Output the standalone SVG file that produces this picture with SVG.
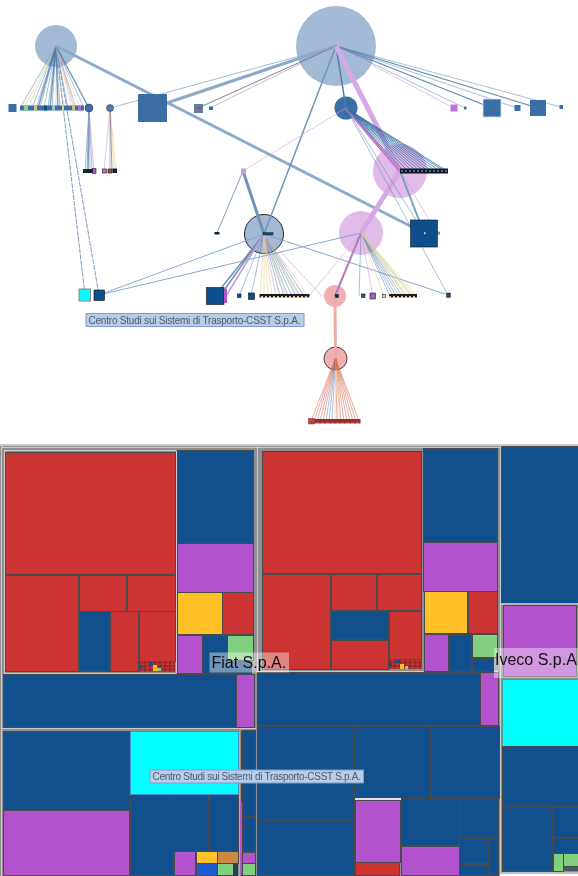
<svg xmlns="http://www.w3.org/2000/svg" width="578" height="876" viewBox="0 0 578 876">
<style>
.r{fill:#cc3333}.b{fill:#11508c}.p{fill:#b252cc}.y{fill:#ffc125}.g{fill:#80d080}.c{fill:#00ffff}.o{fill:#cc8840}.u{fill:#1a5cd0}
#treemap{shape-rendering:crispEdges}
#treemap rect{stroke:#4a4a4a;stroke-width:1}
#treemap rect.f{stroke:none}
.e{fill:none}
.lb{stroke:#4f7fae;stroke-width:.7;opacity:.7}
.ly{stroke:#eccf88;stroke-width:.7;opacity:.85}
.lp{stroke:#d49ce0;stroke-width:.7;opacity:.85}
.lg{stroke:#9fd0a0;stroke-width:.7;opacity:.85}
.lr{stroke:#d96a60;stroke-width:.7;opacity:.8}
.n{fill:#3a6ea5}
.t{fill:#11508c;stroke:#111;stroke-width:.6}
.tip{fill:#b8cde6;stroke:#7c9fcf;stroke-width:1}
.tipt{font-family:"Liberation Sans",Arial,sans-serif;font-size:10px;fill:#4a5a78}
.big{font-family:"Liberation Sans",Arial,sans-serif;font-size:16px;fill:#111}
</style>
<defs>
<filter id="soft" x="0" y="0" width="578" height="440" filterUnits="userSpaceOnUse"><feGaussianBlur stdDeviation="0.45"/></filter>
<pattern id="tiny" width="4" height="6" patternUnits="userSpaceOnUse" x="0" y="0"><rect width="4" height="6" fill="#1a1f2e"/><rect x="1" y="2" width="2" height="2" fill="#d8c070"/></pattern>
<pattern id="tinyb" width="4" height="6" patternUnits="userSpaceOnUse"><rect width="4" height="6" fill="#101822"/><rect x="1" y="2" width="2" height="2" fill="#4a6a88"/></pattern>
<pattern id="tinyr" width="5" height="6" patternUnits="userSpaceOnUse"><rect width="5" height="6" fill="#8a3030"/><rect x="1" y="2" width="3" height="2" fill="#cc4444"/></pattern>
<pattern id="mini" width="5" height="3.6" patternUnits="userSpaceOnUse"><rect width="5" height="3.6" fill="#cc3333" stroke="#662222" stroke-width=".8"/></pattern>
</defs>
<rect width="578" height="876" fill="#fff"/>

<g id="graph" filter="url(#soft)">
<g id="graph-circles">
<circle id="node-a" cx="56" cy="46" r="21" fill="#a3bad5"/>
<circle id="node-b" cx="336" cy="46" r="40" fill="#a3bad5"/>
<circle id="node-c" cx="400" cy="171" r="27" fill="#e2bce8"/>
<circle id="node-d" cx="361" cy="233" r="22" fill="#e2bce8"/>
<circle id="node-e" cx="335" cy="296" r="11" fill="#eeb0b0"/>
<circle id="node-f" cx="335.500" cy="358.500" r="11.500" fill="#eeb0b0" stroke="#553a3a" stroke-width="1"/>
<circle id="node-g" cx="264" cy="234" r="19.500" fill="#a3bad5" stroke="#223" stroke-width="1"/>
<circle id="node-h" cx="346" cy="108" r="11.500" fill="#3a6ea5"/>
</g>

<g id="connectors" class="e">
<path class="lb" d="M56 46L20 108M56 46L32 108M56 46L40 108M56 46L44 108M56 46L52 108M56 46L60 108M56 46L68 108M56 46L76 108M56 46L84 108M56 46L36 108M56 46L48 108"/>
<path class="ly" d="M56 46L24 108M56 46L56 108M56 46L64 108M56 46L72 108M56 46L80 108"/>
<path class="lg" d="M56 46L28 108"/>
<path class="lp" d="M56 46L74 108"/>
<path stroke="#3a6ea5" stroke-width="1.400" opacity=".7" d="M56 46L38 108M56 46L50 108M56 46L58 108M56 46L89 108"/>
<path stroke="#7d9dc2" stroke-width="1" d="M56 46L85 295M56 46L99 295" stroke-dasharray="5 1"/>
<path stroke="#8ca9c9" stroke-width="3" d="M56 46L424 233"/>
<path stroke="#8ca9c9" stroke-width="3" d="M336 46L152 108"/>
<path stroke="#8ca9c9" stroke-width=".8" d="M336 46L110 108"/>
<path stroke="#6b5f7a" stroke-width=".8" d="M336 46L198 108"/>
<path stroke="#a0a8c8" stroke-width=".7" d="M336 46L210 108"/>
<path stroke="#4f7fae" stroke-width="1.500" d="M336 46L346 108"/>
<path stroke="#6f93b8" stroke-width="1.500" d="M336 46L264 234"/>
<path stroke="#e0b0e8" stroke-width=".8" d="M336 46L454 108"/>
<path class="lb" d="M336 46L465 108M336 46L517 108M336 46L561 107"/>
<path stroke="#5f8ab3" stroke-width="1.200" d="M336 46L492 108M336 46L538 108"/>
<path stroke="#d8a8e6" stroke-width="5" d="M336 46L400 171L361 233"/>
<path stroke="#b27cc0" stroke-width="2" d="M361 233L335 296"/>
<path stroke="#eeaaaa" stroke-width="3" d="M335 296L335.500 358.500"/>
<path stroke="#c77ed0" stroke-width="3" d="M346 108L400 171"/>
<path stroke="#3a6ea5" stroke-width="1" opacity=".8" d="M346 108L404 171M346 108L408 171M346 108L412 171M346 108L416 171M346 108L420 171M346 108L424 171M346 108L428 171M346 108L432 171M346 108L436 171M346 108L440 171M346 108L444 171M346 108L447 171"/>
<path stroke="#7b9dc4" stroke-width="2" d="M400 171L424 233"/>
<path class="lb" d="M346 108L424 233M346 108L448 295"/>
<path class="lp" d="M346 108L243 171M400 171L437 233"/>
<path stroke="#6f93b8" stroke-width="3" d="M243 171L264 234"/>
<path stroke="#7d9dc2" stroke-width="1" d="M243 171L217 233"/>
<path class="lb" d="M89 108L85 171M89 108L87 171M89 108L90 171M89 108L92 171M110 108L110 171"/>
<path stroke="#7d9dc2" stroke-width="1.500" d="M89 108L88 171"/>
<path class="lp" d="M89 108L94 171M110 108L104 171"/>
<path class="ly" d="M110 108L114 171M110 108L116 171"/>
<path stroke="#8a6a70" stroke-width=".7" d="M110 108L112 171"/>
<path stroke="#6f93b8" stroke-width="1.500" d="M264 234L215 296M264 234L220 296"/>
<path stroke="#c79ad8" stroke-width="1.500" d="M264 234L226 296"/>
<path class="lb" d="M264 234L239 296M264 234L251 296M264 234L280 296M264 234L284 296M264 234L288 296M264 234L292 296M264 234L296 296M264 234L300 296M264 234L304 296"/>
<path class="ly" d="M264 234L260 296M264 234L264 296M264 234L268 296M264 234L272 296M264 234L286 296M264 234L298 296M264 234L308 296"/>
<path class="lp" d="M264 234L276 296"/>
<path stroke="#7fa0c8" stroke-width=".9" d="M264 234L99 295M361 233L99 295M264 234L448 295"/>
<path class="lp" d="M361 233L309 296M264 234L322 296"/>
<path class="lb" d="M361 233L359 296M361 233L390 296M361 233L393 296M361 233L396 296M361 233L399 296M361 233L402 296"/>
<path class="lp" d="M361 233L373 296"/>
<path class="ly" d="M361 233L384 296M361 233L405 296M361 233L408 296M361 233L411 296M361 233L414 296M361 233L417 296"/>
<path class="lg" d="M361 233L406 296M361 233L412 296"/>
<path class="lr" d="M335.500 358.500L311 421M335.500 358.500L314 421M335.500 358.500L317 421M335.500 358.500L320 421M335.500 358.500L323 421M335.500 358.500L341 421M335.500 358.500L344 421M335.500 358.500L347 421M335.500 358.500L350 421M335.500 358.500L353 421M335.500 358.500L356 421M335.500 358.500L359 421M335.500 358.500L337 421"/>
<path class="lb" d="M335.500 358.500L326 421M335.500 358.500L329 421M335.500 358.500L332 421"/>
<path class="ly" d="M335.500 358.500L335 421M335.500 358.500L338 421M335.500 358.500L340 421"/>
<path stroke="#cc5544" stroke-width="3" opacity=".6" d="M335.500 358.500L335.500 370"/>
</g>

<g id="nodes-top">
<rect id="n1" x="8.500" y="104" width="8" height="8" class="n"/>
<rect id="n2" x="20" y="105.500" width="64" height="5" fill="#3a6ea5"/>
<rect x="24" y="105.500" width="4" height="5" fill="#90d090"/><rect x="34" y="105.500" width="3" height="5" fill="#d8c070"/><rect x="44" y="105.500" width="3" height="5" fill="#11508c"/><rect x="52" y="105.500" width="3" height="5" fill="#a8c0d8"/><rect x="62" y="105.500" width="2" height="5" fill="#f0d080"/><rect x="72" y="105.500" width="3" height="5" fill="#d8c070"/><rect x="78" y="105.500" width="3" height="5" fill="#b070d0"/>
<circle id="n3" cx="89" cy="108" r="4" fill="#3a6ea5" stroke="#333" stroke-width=".5"/>
<circle id="n4" cx="110" cy="108" r="3.500" fill="#4f7fae" stroke="#333" stroke-width=".5"/>
<rect id="n5" x="138" y="94" width="29" height="28" rx="1" class="n"/>
<rect id="n6" x="194" y="104" width="9" height="9" fill="#5a80a8"/><rect x="196" y="107" width="5" height="2" fill="#b05050"/>
<rect id="n7" x="209" y="106.500" width="4" height="3.500" class="n"/>
<rect id="n8" x="450.500" y="104.500" width="7" height="7" fill="#c070d8"/>
<rect id="n9" x="464" y="106.500" width="2.500" height="3" class="n"/>
<rect id="n10" x="483" y="99" width="18" height="18" class="n" stroke="#dce6f0" stroke-width=".8"/>
<rect id="n11" x="514.500" y="105" width="6" height="6" class="n"/>
<rect id="n12" x="530" y="100" width="16" height="16" class="n"/>
<rect id="n13" x="559.500" y="105" width="3.500" height="4" class="n"/>
<rect id="n14" x="83" y="169" width="10" height="4" fill="#14202e"/><rect x="92.500" y="168.500" width="3.500" height="5" fill="#b252cc" stroke="#111" stroke-width=".5"/>
<rect id="n15" x="102.500" y="169" width="4" height="4" fill="#c070d8" stroke="#111" stroke-width=".6"/><rect x="108" y="169" width="4" height="4" fill="#aa5030" stroke="#111" stroke-width=".6"/><rect x="112.500" y="168.500" width="4.500" height="4.500" fill="#14202e"/>
<rect id="n16" x="400" y="168.500" width="48" height="5" fill="url(#tinyb)"/>
<rect id="n17" x="241" y="168.500" width="5" height="5" fill="#c79ad8"/>
<rect id="n18" x="214.500" y="232" width="5" height="2.500" fill="#14202e"/>
<rect id="n19" x="263" y="232.500" width="10" height="2.500" fill="#11508c" stroke="#111" stroke-width=".4"/>
<rect id="n20" x="410.500" y="220" width="27" height="27" class="t"/>
<rect x="423.500" y="232" width="2.500" height="2.500" fill="#c8d8f0" stroke="#111" stroke-width=".5"/><rect x="437.500" y="232" width="2" height="2.500" fill="#c8b080" stroke="#111" stroke-width=".4"/>
<rect id="n21" x="79" y="289" width="11.500" height="12" fill="#00ffff" stroke="#888" stroke-width="1"/>
<rect id="n22" x="94" y="290" width="10.500" height="10.500" class="t"/>
<rect id="n23" x="206.500" y="287.500" width="17.500" height="17" class="t"/><rect x="224" y="289" width="3" height="14" fill="#b252cc"/>
<rect id="n24" x="237.500" y="294" width="3.500" height="3.500" class="t"/>
<rect id="n25" x="248.500" y="293" width="6" height="6.500" class="t"/>
<rect id="n26" x="259.500" y="294" width="50" height="3.500" fill="url(#tiny)"/>
<rect id="n27" x="335.500" y="294.500" width="3" height="3" fill="#14202e" stroke="#111" stroke-width=".5"/>
<rect id="n28" x="361.500" y="294" width="3.500" height="3.500" fill="#3a5a80" stroke="#111" stroke-width=".6"/>
<rect id="n29" x="370" y="293" width="5.500" height="6" fill="#a060c0" stroke="#222" stroke-width=".6"/>
<rect id="n30" x="382.500" y="294.500" width="3" height="3" fill="#e8d8b0" stroke="#222" stroke-width=".6"/>
<rect id="n31" x="389" y="294" width="28" height="3.500" fill="url(#tiny)"/>
<rect id="n32" x="446.500" y="293" width="4" height="4.500" fill="#2a4a68" stroke="#223" stroke-width=".4"/>
<rect id="n33" x="308.500" y="418.500" width="6" height="5.500" fill="#c04040" stroke="#733" stroke-width=".5"/>
<rect id="n34" x="314.500" y="419" width="46" height="4.500" fill="url(#tinyr)"/>
</g>
</g>

<g id="treemap">
<rect class="f" x="0" y="443.500" width="578" height="432.500" fill="#8f8f8f"/>
<rect class="f" x="0" y="443.500" width="578" height="2.500" fill="#c8c8c8"/>
<path d="M1.500 446V876M257 446V876M500 446V872M2 447.500H500M2 728.500H256M256 671H498M4 450.500H176V673H4Z" fill="none" stroke="#d8d8d8" stroke-width=".8"/>

<rect class="r" x="5.500" y="452.500" width="169.500" height="122"/>
<rect class="r" x="5.500" y="575" width="73" height="96.500"/>
<rect class="r" x="79" y="575" width="47.500" height="36"/>
<rect class="r" x="127" y="575" width="48" height="36"/>
<rect class="b" x="79" y="611.500" width="30.500" height="60"/>
<rect class="r" x="110" y="611.500" width="28.500" height="60"/>
<rect class="r" x="139" y="611.500" width="36" height="49.500"/>
<rect class="f" x="139" y="661" width="36" height="10.500" fill="url(#mini)"/>
<rect class="f b" x="149" y="661.500" width="4" height="3"/><rect class="f b" x="139" y="665" width="4" height="3"/><rect class="f y" x="153" y="665" width="3.500" height="6"/><rect class="f g" x="157" y="668" width="4" height="3"/>
<rect class="b" x="177" y="450" width="76.500" height="93.500"/>
<rect class="p" x="177" y="543.500" width="76.500" height="49"/>
<rect class="y" x="177" y="592.500" width="45" height="42"/>
<rect class="r" x="222.500" y="592.500" width="31" height="42"/>
<rect class="p" x="177" y="635" width="25" height="38.500"/>
<rect class="b" x="202.500" y="635" width="24.500" height="38.500"/>
<rect class="g" x="227.500" y="635" width="26" height="25.500"/>
<rect class="b" x="227.500" y="660.500" width="24" height="13"/>

<rect class="b" x="3" y="674.500" width="233" height="53"/>
<rect class="p" x="236" y="674.500" width="18.500" height="53"/>

<rect class="b" x="3" y="731" width="126.500" height="79"/>
<rect class="p" x="3" y="810.500" width="126.500" height="65"/>
<rect class="b" x="130" y="794.500" width="43" height="81"/>
<rect class="b" x="173.500" y="794.500" width="35" height="56.500"/>
<rect class="b" x="209" y="794.500" width="29.500" height="56.500"/>
<rect class="c" x="130" y="731.500" width="108.500" height="62.500" style="stroke:#4a90c8"/>
<rect class="p" x="174" y="851" width="21.500" height="24.500"/>
<rect class="y" x="196" y="851.500" width="21" height="11.500"/>
<rect class="o" x="217.500" y="851.500" width="20.500" height="11.500"/>
<rect class="u" x="196" y="863.500" width="21" height="12"/>
<rect class="g" x="217.500" y="863.500" width="15.500" height="12"/>
<rect class="f" x="233" y="863.500" width="5" height="12" fill="#2a3d55"/>
<rect class="f" x="238.500" y="731" width="1.800" height="145" fill="#b0b0b0"/>
<rect class="b" x="240.500" y="731" width="1.500" height="145" style="stroke:none"/>
<rect class="f p" x="240" y="802" width="2" height="71"/>
<rect class="b" x="242" y="730" width="13" height="86.500"/>
<rect class="b" x="242" y="817" width="13" height="34.500"/>
<rect class="p" x="242.500" y="852" width="12.500" height="11"/>
<rect class="g" x="242.500" y="863.500" width="12.500" height="12"/>

<rect class="r" x="262" y="451" width="159.500" height="122"/>
<rect class="r" x="262" y="574" width="68.500" height="95"/>
<rect class="r" x="331" y="574" width="45.500" height="36"/>
<rect class="r" x="377" y="574" width="44.500" height="36"/>
<rect class="b" x="331" y="611" width="57" height="28.500"/>
<rect class="r" x="331" y="640" width="57" height="29"/>
<rect class="r" x="389" y="611" width="32.500" height="48"/>
<rect class="f" x="389" y="659" width="32.500" height="10" fill="url(#mini)"/>
<rect class="f b" x="396" y="659.500" width="4" height="3"/><rect class="f y" x="400" y="664" width="4" height="5"/><rect class="f g" x="405" y="666" width="3" height="3"/><rect class="f b" x="389" y="663" width="3" height="3"/>
<rect class="b" x="423.500" y="448.500" width="73.500" height="93.500"/>
<rect class="p" x="423.500" y="542.500" width="73.500" height="48.500"/>
<rect class="y" x="424" y="591.500" width="43.500" height="41.500"/>
<rect class="r" x="468.500" y="591.500" width="28.500" height="41.500"/>
<rect class="p" x="424" y="634" width="24" height="37"/>
<rect class="b" x="448.500" y="634" width="23" height="37"/>
<rect class="g" x="472" y="634" width="25" height="23.500"/>
<rect class="b" x="472" y="658" width="21.500" height="13"/>

<rect class="b" x="257.500" y="672" width="222.500" height="53"/>
<rect class="p" x="480.500" y="672.500" width="17.500" height="52.500"/>
<rect class="b" x="257" y="726" width="97" height="94"/>
<rect class="b" x="257" y="820.500" width="97" height="55"/>
<rect class="b" x="354.500" y="726" width="76" height="72"/>
<rect class="b" x="431" y="726" width="68" height="72"/>
<rect class="f" x="354.500" y="798" width="46" height="1.500" fill="#e0e0e0"/>
<rect class="p" x="355.500" y="800.500" width="44.500" height="61.500"/>
<rect class="r" x="355.500" y="862.500" width="43.500" height="13"/>
<rect class="b" x="401" y="798.500" width="58" height="47"/>
<rect class="p" x="401" y="846" width="58" height="29.500"/>
<rect class="b" x="459.500" y="798.500" width="39" height="39.500"/>
<rect class="b" x="459.500" y="838.500" width="29" height="25"/>
<rect class="b" x="459.500" y="864" width="29" height="11.500"/>
<rect class="b" x="489" y="838.500" width="9.500" height="37"/>

<rect class="b" x="501.500" y="446" width="77" height="157"/>
<rect class="f" x="501" y="603" width="77" height="2" fill="#b8b8b8"/>
<rect class="p" x="503.500" y="605.500" width="73" height="71"/>
<rect class="c" x="502" y="679" width="77" height="67" style="stroke:#40a0a0"/>
<rect class="b" x="502" y="746.500" width="77" height="59.500"/>
<rect class="b" x="502" y="806.500" width="50" height="64.500"/>
<rect class="b" x="553" y="807" width="26" height="30.500"/>
<rect class="b" x="553" y="838" width="26" height="15"/>
<rect class="g" x="553" y="853.500" width="10" height="17.500"/>
<rect class="g" x="563.500" y="853.500" width="15" height="12.500"/>
<rect class="f" x="563.500" y="866.500" width="15" height="4.500" fill="#4a5a60"/>
<rect class="f" x="500" y="871.500" width="78" height="2.500" fill="#c0c0c0"/>
<rect class="f" x="500" y="874" width="78" height="2" fill="#fff"/>
</g>

<g id="labels">
<rect class="tip" x="86" y="313.500" width="218" height="13"/>
<text class="tipt" x="88.500" y="323.500" textLength="212">Centro Studi sui Sistemi di Trasporto-CSST S.p.A.</text>
<rect class="tip" x="150" y="770" width="213.500" height="13"/>
<text class="tipt" x="152.500" y="780" textLength="208.500">Centro Studi sui Sistemi di Trasporto-CSST S.p.A.</text>
<rect x="209.500" y="652.500" width="79.500" height="20" fill="#fff" opacity=".4"/>
<text class="big" x="211.500" y="668">Fiat S.p.A.</text>
<rect x="494" y="648" width="84" height="30" fill="#fff" opacity=".4"/>
<text class="big" x="495" y="665">Iveco S.p.A</text>
</g>
</svg>
